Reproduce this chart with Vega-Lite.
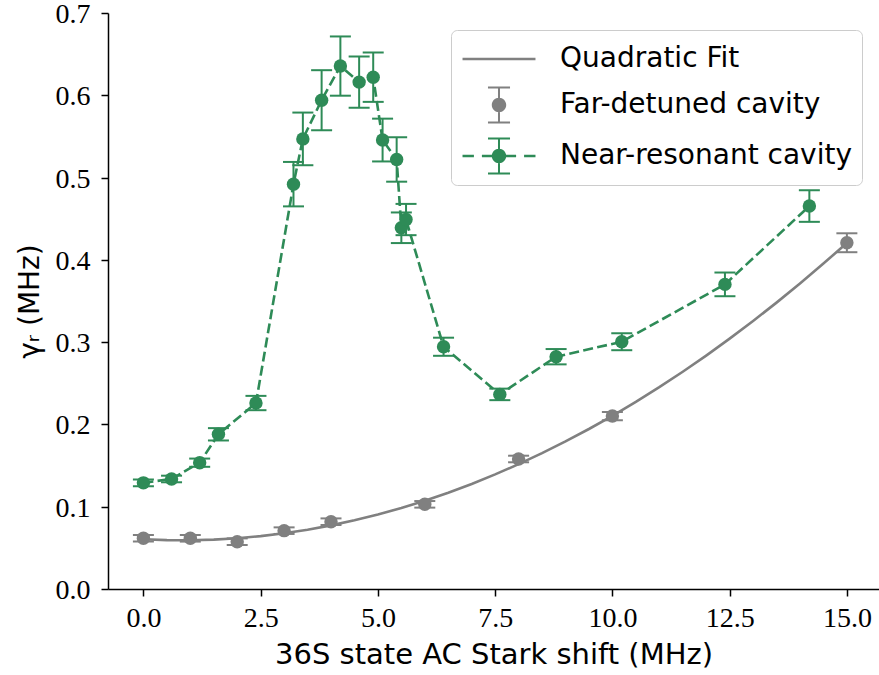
{
  "$schema": "https://vega.github.io/schema/vega-lite/v6.json",
  "autosize": {"type": "none"},
  "padding": {"left": 108, "top": 13, "right": 0, "bottom": 86},
  "width": 771,
  "height": 576,
  "background": "white",
  "datasets": {
    "fit": [
      {"x": 0, "y": 0.0605}, {"x": 0.5, "y": 0.05945}, {"x": 1, "y": 0.0593}, {"x": 1.5, "y": 0.06005},
      {"x": 2, "y": 0.0617}, {"x": 2.5, "y": 0.06425}, {"x": 3, "y": 0.0677}, {"x": 3.5, "y": 0.07205},
      {"x": 4, "y": 0.0773}, {"x": 4.5, "y": 0.08345}, {"x": 5, "y": 0.0905}, {"x": 5.5, "y": 0.09845},
      {"x": 6, "y": 0.1073}, {"x": 6.5, "y": 0.11705}, {"x": 7, "y": 0.1277}, {"x": 7.5, "y": 0.13925},
      {"x": 8, "y": 0.1517}, {"x": 8.5, "y": 0.16505}, {"x": 9, "y": 0.1793}, {"x": 9.5, "y": 0.19445},
      {"x": 10, "y": 0.2105}, {"x": 10.5, "y": 0.22745}, {"x": 11, "y": 0.2453}, {"x": 11.5, "y": 0.26405},
      {"x": 12, "y": 0.2837}, {"x": 12.5, "y": 0.30425}, {"x": 13, "y": 0.3257}, {"x": 13.5, "y": 0.34805},
      {"x": 14, "y": 0.3713}, {"x": 14.5, "y": 0.39545}, {"x": 15, "y": 0.4205}
    ],
    "far": [
      {"x": 0, "y": 0.0616, "err": 0.004},
      {"x": 1, "y": 0.0616, "err": 0.004},
      {"x": 2, "y": 0.0575, "err": 0.004},
      {"x": 3, "y": 0.0709, "err": 0.004},
      {"x": 4, "y": 0.0818, "err": 0.004},
      {"x": 6, "y": 0.1029, "err": 0.004},
      {"x": 8, "y": 0.158, "err": 0.004},
      {"x": 10, "y": 0.2102, "err": 0.005},
      {"x": 15, "y": 0.4208, "err": 0.0115}
    ],
    "near": [
      {"x": 0, "y": 0.129, "err": 0.004},
      {"x": 0.6, "y": 0.1337, "err": 0.004},
      {"x": 1.2, "y": 0.1535, "err": 0.005},
      {"x": 1.6, "y": 0.188, "err": 0.0075},
      {"x": 2.4, "y": 0.226, "err": 0.0087},
      {"x": 3.2, "y": 0.492, "err": 0.027},
      {"x": 3.4, "y": 0.547, "err": 0.032},
      {"x": 3.8, "y": 0.594, "err": 0.0365},
      {"x": 4.2, "y": 0.6355, "err": 0.036},
      {"x": 4.6, "y": 0.616, "err": 0.031},
      {"x": 4.9, "y": 0.622, "err": 0.03},
      {"x": 5.1, "y": 0.5456, "err": 0.026},
      {"x": 5.4, "y": 0.522, "err": 0.027},
      {"x": 5.5, "y": 0.439, "err": 0.0186},
      {"x": 5.6, "y": 0.449, "err": 0.019},
      {"x": 6.4, "y": 0.2944, "err": 0.011},
      {"x": 7.6, "y": 0.2365, "err": 0.007},
      {"x": 8.8, "y": 0.2823, "err": 0.0093},
      {"x": 10.2, "y": 0.3005, "err": 0.0103},
      {"x": 12.4, "y": 0.3702, "err": 0.0144},
      {"x": 14.2, "y": 0.4654, "err": 0.0192}
    ]
  },
  "encoding": {
    "x": {
      "field": "x", "type": "quantitative",
      "scale": {"domain": [-0.755, 15.685], "nice": false, "zero": false},
      "axis": {
        "title": "36S state AC Stark shift (MHz)",
        "values": [0, 2.5, 5, 7.5, 10, 12.5, 15],
        "format": ".1f",
        "labelPadding": 8,
        "titlePadding": 8,
        "titleFontSize": 29
      }
    },
    "y": {
      "field": "y", "type": "quantitative",
      "scale": {"domain": [0, 0.7], "nice": false, "zero": false},
      "axis": {
        "title": "γᵣ (MHz)",
        "values": [0, 0.1, 0.2, 0.3, 0.4, 0.5, 0.6, 0.7],
        "format": ".1f",
        "labelPadding": 11,
        "labelBaseline": "alphabetic",
        "labelOffset": 9.5,
        "titlePadding": 11
      }
    }
  },
  "layer": [
    {
      "data": {"name": "fit"},
      "mark": {"type": "line", "color": "#808080", "strokeWidth": 2.6}
    },
    {
      "data": {"name": "far"},
      "mark": {"type": "errorbar", "color": "#808080", "opacity": 1, "thickness": 2, "ticks": {"size": 21, "thickness": 2, "opacity": 1}, "rule": {"opacity": 1}},
      "encoding": {"yError": {"field": "err"}}
    },
    {
      "data": {"name": "far"},
      "mark": {"type": "circle", "color": "#808080", "size": 180, "opacity": 1}
    },
    {
      "data": {"name": "near"},
      "mark": {"type": "line", "color": "#2e8b57", "strokeWidth": 2.6, "strokeDash": [10, 4.3]}
    },
    {
      "data": {"name": "near"},
      "mark": {"type": "errorbar", "color": "#2e8b57", "opacity": 1, "thickness": 2, "ticks": {"size": 21, "thickness": 2, "opacity": 1}, "rule": {"opacity": 1}},
      "encoding": {"yError": {"field": "err"}}
    },
    {
      "data": {"name": "near"},
      "mark": {"type": "circle", "color": "#2e8b57", "size": 180, "opacity": 1}
    },
    {
      "data": {"values": []},
      "mark": {"type": "point", "filled": true, "opacity": 1, "strokeWidth": 0},
      "encoding": {
        "x": null,
        "y": null,
        "color": {
          "field": "series", "type": "nominal",
          "scale": {
            "domain": ["Quadratic Fit", "Far-detuned cavity", "Near-resonant cavity"],
            "range": ["#808080", "#808080", "#2e8b57"]
          },
          "legend": {"title": null}
        },
        "shape": {
          "field": "series", "type": "nominal",
          "scale": {
            "domain": ["Quadratic Fit", "Far-detuned cavity", "Near-resonant cavity"],
            "range": [
              "M-1.92,-0.07H1.92V0.07H-1.92Z",
              "M-0.053,-0.92H0.053V0.92H-0.053Z M-0.58,-0.973H0.58V-0.867H-0.58Z M-0.58,0.867H0.58V0.973H-0.58Z M-0.38,0A0.38,0.38 0 1,1 0.38,0A0.38,0.38 0 1,1 -0.38,0Z",
              "M-1.92,-0.07H-1.32V0.07H-1.92Z M-0.9,-0.07H0.9V0.07H-0.9Z M1.32,-0.07H1.92V0.07H1.32Z M-0.053,-0.92H0.053V0.92H-0.053Z M-0.58,-0.973H0.58V-0.867H-0.58Z M-0.58,0.867H0.58V0.973H-0.58Z M-0.38,0A0.38,0.38 0 1,1 0.38,0A0.38,0.38 0 1,1 -0.38,0Z"
            ]
          },
          "legend": {"title": null}
        }
      }
    },
    {
      "data": {"values": [{}]},
      "mark": {"type": "rule", "color": "black", "strokeWidth": 1.5},
      "encoding": {"x": null, "y": {"datum": 0.7}}
    }
  ],
  "config": {
    "view": {"stroke": null},
    "axis": {
      "grid": false,
      "domainColor": "black",
      "domainWidth": 1.5,
      "tickColor": "black",
      "tickWidth": 1.5,
      "tickSize": 7,
      "labelFont": "Liberation Serif",
      "labelFontSize": 28,
      "labelColor": "black",
      "titleFont": "DejaVu Sans",
      "titleFontSize": 28,
      "titleFontWeight": "normal",
      "titleColor": "black"
    },
    "legend": {
      "orient": "none",
      "legendX": 343,
      "legendY": 17,
      "padding": 10,
      "strokeColor": "#cccccc",
      "fillColor": "rgba(255,255,255,0.8)",
      "cornerRadius": 6,
      "labelFont": "DejaVu Sans",
      "labelFontSize": 28,
      "labelColor": "black",
      "labelLimit": 500,
      "symbolSize": 1444,
      "symbolStrokeWidth": 0,
      "symbolOpacity": 1,
      "labelOffset": 42,
      "symbolOffset": 19,
      "rowPadding": 13
    }
  }
}
